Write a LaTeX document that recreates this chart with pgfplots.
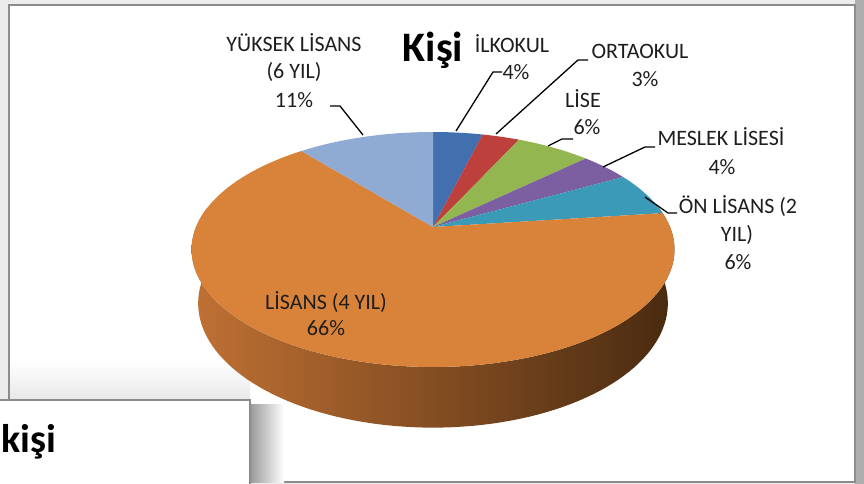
\documentclass[border=0pt]{standalone}
\usepackage{pgfplots}
\pgfplotsset{compat=1.18}
\usepackage{pgfplotstable}
\usepackage{fontspec}
\setmainfont{Carlito}

\definecolor{cBlue}{RGB}{66,112,174}
\definecolor{cRed}{RGB}{190,64,60}
\definecolor{cGreen}{RGB}{148,182,80}
\definecolor{cPurple}{RGB}{123,95,160}
\definecolor{cTeal}{RGB}{58,154,184}
\definecolor{cOrange}{RGB}{217,131,58}
\definecolor{cLBlue}{RGB}{143,170,211}
\definecolor{sideL}{RGB}{192,113,52}
\definecolor{sideM}{RGB}{148,86,36}
\definecolor{sideR}{RGB}{72,42,16}
\definecolor{labtxt}{RGB}{30,30,30}
\definecolor{frame}{RGB}{140,140,140}
\definecolor{outer}{RGB}{236,236,236}

% share of each group (percent), clockwise from 12 o'clock
\pgfplotstableread{
label value
ILKOKUL 4
ORTAOKUL 3
LISE 6
MESLEKLISESI 4
ONLISANS 6
LISANS 66
YUKSEKLISANS 11
}\piedata

\newcommand\getv[2]{\pgfplotstablegetelem{#1}{value}\of\piedata\edef#2{\pgfplotsretval}}
\getv{0}{\vA}\getv{1}{\vB}\getv{2}{\vC}\getv{3}{\vD}\getv{4}{\vE}\getv{5}{\vF}\getv{6}{\vG}
\pgfmathsetmacro\aA{0}
\pgfmathsetmacro\aB{\aA+3.6*\vA}
\pgfmathsetmacro\aC{\aB+3.6*\vB}
\pgfmathsetmacro\aD{\aC+3.6*\vC}
\pgfmathsetmacro\aE{\aD+3.6*\vD}
\pgfmathsetmacro\aF{\aE+3.6*\vE}
\pgfmathsetmacro\aG{\aF+3.6*\vF}
\pgfmathsetmacro\aH{\aG+3.6*\vG}

\newcommand\lblfont{\fontsize{22}{26}\selectfont}
\newcommand\lab[3]{\node[anchor=base,font=\lblfont,text=labtxt,inner sep=0pt] at (axis cs:#1,#2) {#3};}

\begin{document}
\begin{tikzpicture}
\begin{axis}[
  x=1pt, y=1pt, y dir=reverse,
  xmin=0, xmax=864, ymin=0, ymax=484,
  hide axis,
  declare function={
    dd(\t,\h) = -237*cos(\t)*0.8786 - \h*0.4776;
    ss(\t,\h) = 1087/(1087 - dd(\t,\h));
    pu(\t,\h) = 433 + 237*sin(\t)*ss(\t,\h);
    pv(\t,\h) = 227 + (-237*cos(\t)*0.4776 + \h*0.8786)*ss(\t,\h);
    ang(\t) = (\t<=1)*(80+200*\t) + (\t>1)*(280-200*(\t-1));
    hh(\t) = (\t>1)*62;
  },
]
% window background and frames
\fill[outer] (axis cs:0,0) rectangle (axis cs:864,484);
\fill[frame!70] (axis cs:855,0) rectangle (axis cs:864,484);
\fill[white] (axis cs:9,5) rectangle (axis cs:855,482);
\shade[top color=white, bottom color=black!9] (axis cs:10,360) rectangle (axis cs:250,400);
\draw[frame, line width=1.2pt] (axis cs:9,5) rectangle (axis cs:855,482);

% pie side (front wall)
\addplot[draw=none, left color=sideL, middle color=sideM, right color=sideR,
  domain=0:2, samples=201, variable=\t]
  ({pu(ang(\t),hh(\t))},{pv(ang(\t),hh(\t))}) -- cycle;

% pie top slices
\addplot[fill=cBlue, draw=none, domain=\aA:\aB, samples=20, variable=\t]
  ({pu(\t,0)},{pv(\t,0)}) -- (axis cs:433,227) -- cycle;
\addplot[fill=cRed, draw=none, domain=\aB:\aC, samples=20, variable=\t]
  ({pu(\t,0)},{pv(\t,0)}) -- (axis cs:433,227) -- cycle;
\addplot[fill=cGreen, draw=none, domain=\aC:\aD, samples=20, variable=\t]
  ({pu(\t,0)},{pv(\t,0)}) -- (axis cs:433,227) -- cycle;
\addplot[fill=cPurple, draw=none, domain=\aD:\aE, samples=20, variable=\t]
  ({pu(\t,0)},{pv(\t,0)}) -- (axis cs:433,227) -- cycle;
\addplot[fill=cTeal, draw=none, domain=\aE:\aF, samples=20, variable=\t]
  ({pu(\t,0)},{pv(\t,0)}) -- (axis cs:433,227) -- cycle;
\addplot[fill=cOrange, draw=none, domain=\aF:\aG, samples=120, variable=\t]
  ({pu(\t,0)},{pv(\t,0)}) -- (axis cs:433,227) -- cycle;
\addplot[fill=cLBlue, draw=none, domain=\aG:\aH, samples=30, variable=\t]
  ({pu(\t,0)},{pv(\t,0)}) -- (axis cs:433,227) -- cycle;

% leader lines
\draw[black, line width=1.3pt] (axis cs:330,106) -- (axis cs:340,106) -- (axis cs:363,135);
\draw[black, line width=1.3pt] (axis cs:502,72) -- (axis cs:493,72) -- (axis cs:456,131);
\draw[black, line width=1.3pt] (axis cs:588,60) -- (axis cs:578,60) -- (axis cs:496,134);
\draw[black, line width=1.3pt] (axis cs:573,139) -- (axis cs:562,139) -- (axis cs:548,146);
\draw[black, line width=1.3pt] (axis cs:655,147) -- (axis cs:645,147) -- (axis cs:603,167);
\draw[black, line width=1.3pt] (axis cs:645,197) -- (axis cs:668,213) -- (axis cs:677,213);

% title
\node[anchor=base, font=\fontsize{42}{46}\selectfont\bfseries, inner sep=0pt] at (axis cs:433,62) {Kişi};

% data labels
\lab{294}{52}{YÜKSEK LİSANS}
\lab{294}{79}{(6 YIL)}
\lab{294}{107}{11\%}
\lab{512}{53}{İLKOKUL}
\lab{516}{80}{4\%}
\lab{640}{59}{ORTAOKUL}
\lab{645}{87}{3\%}
\lab{583}{108}{LİSE}
\lab{587}{135}{6\%}
\lab{721}{146}{MESLEK LİSESİ}
\lab{722}{174}{4\%}
\lab{738}{213}{ÖN LİSANS (2}
\lab{737}{241}{YIL)}
\lab{738}{269}{6\%}
\lab{326}{309}{LİSANS (4 YIL)}
\lab{326}{335}{66\%}

% overlapping second window (bottom left)
\shade[left color=black!40, right color=white] (axis cs:250,404) rectangle (axis cs:284,482);
\fill[white] (axis cs:0,400) rectangle (axis cs:250,484);
\draw[frame, line width=1.2pt] (axis cs:0,400) -- (axis cs:250,400) -- (axis cs:250,484);
\node[anchor=base west, font=\fontsize{40}{44}\selectfont\bfseries, inner sep=0pt] at (axis cs:1,452) {kişi};
\end{axis}
\end{tikzpicture}
\end{document}
